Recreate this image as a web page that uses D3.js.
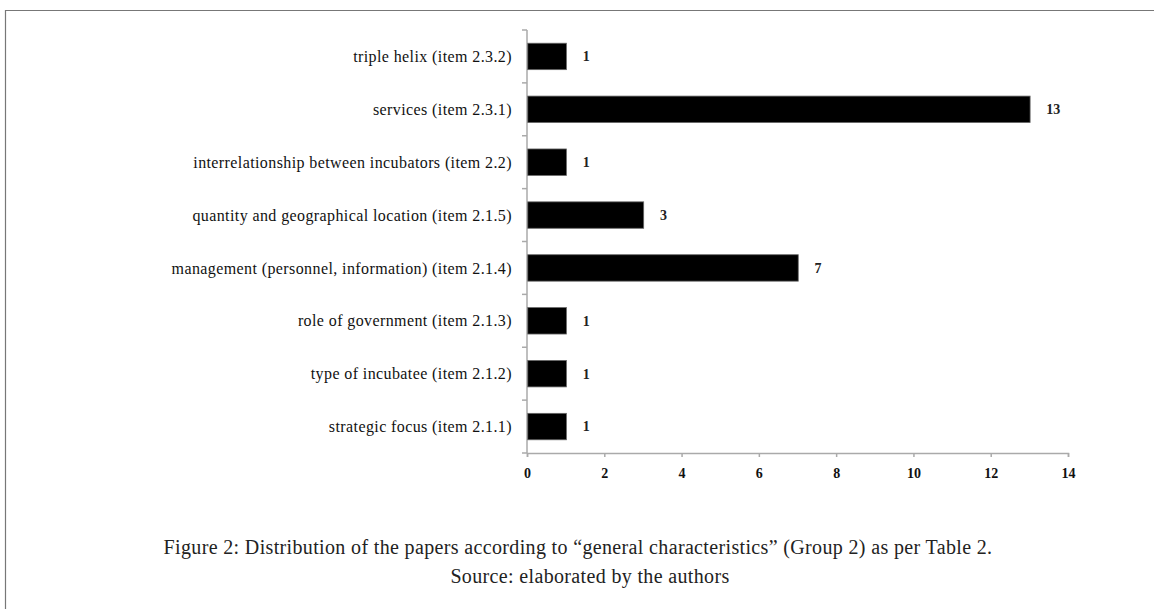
<!DOCTYPE html>
<html>
<head>
<meta charset="utf-8">
<script src="https://d3js.org/d3.v7.min.js"></script>
<style>
  body { margin: 0; background: #fff; }
  text { font-family: "Liberation Serif", "DejaVu Serif", serif; }
</style>
</head>
<body>
<div id="chart"></div>
<script>
// data, top to bottom as in the figure
var categories = [
  "triple helix (item 2.3.2)",
  "services (item 2.3.1)",
  "interrelationship between incubators (item 2.2)",
  "quantity and geographical location (item 2.1.5)",
  "management (personnel, information) (item 2.1.4)",
  "role of government (item 2.1.3)",
  "type of incubatee (item 2.1.2)",
  "strategic focus (item 2.1.1)"
];
var values = [1, 13, 1, 3, 7, 1, 1, 1];
var xTicks = [0, 2, 4, 6, 8, 10, 12, 14];

var W = 1154, H = 609;
var margin = {top: 30, right: 86, bottom: 156, left: 527};
var width = W - margin.left - margin.right,
    height = H - margin.top - margin.bottom;

var svg = d3.select("#chart").append("svg")
    .attr("width", W)
    .attr("height", H);

// frame lines (top and left only)
svg.append("path")
    .attr("d", "M5.5," + H + "V10.5H" + W)
    .attr("fill", "none")
    .attr("stroke", "#777")
    .attr("stroke-width", 1.2);

var g = svg.append("g")
    .attr("transform", "translate(" + margin.left + "," + margin.top + ")");

var x = d3.scaleLinear().domain([0, 14]).range([0, width]);
var y = d3.scaleBand().domain(categories).range([0, height]).paddingInner(0.5).paddingOuter(0.25);

// x axis
var xAxis = g.append("g")
    .attr("transform", "translate(0," + height + ")")
    .call(d3.axisBottom(x).tickValues(xTicks).tickSize(4).tickPadding(11));
xAxis.select(".domain").attr("stroke", "#aaa").attr("stroke-width", 1.5);
xAxis.selectAll(".tick line").attr("stroke", "#aaa").attr("stroke-width", 1.5);
xAxis.selectAll(".tick text")
    .attr("fill", "#111")
    .style("font-size", "14px")
    .style("font-weight", "bold");

// y axis: line plus ticks at the category boundaries
g.append("line")
    .attr("x1", 0).attr("x2", 0)
    .attr("y1", 0).attr("y2", height)
    .attr("stroke", "#aaa").attr("stroke-width", 1.5);

var step = height / categories.length;
g.selectAll(".ytick")
    .data(d3.range(categories.length + 1))
    .enter().append("line")
    .attr("x1", -5).attr("x2", 0)
    .attr("y1", function(i) { return i * step; })
    .attr("y2", function(i) { return i * step; })
    .attr("stroke", "#aaa").attr("stroke-width", 1.5);

// category labels
g.selectAll(".cat")
    .data(categories)
    .enter().append("text")
    .attr("x", -15)
    .attr("y", function(d) { return y(d) + y.bandwidth() / 2; })
    .attr("dy", "0.35em")
    .attr("text-anchor", "end")
    .attr("fill", "#111")
    .style("font-size", "16px")
    .style("letter-spacing", "0.4px")
    .text(function(d) { return d; });

// bars
g.selectAll("rect")
    .data(values)
    .enter().append("rect")
    .attr("x", 0.75)
    .attr("y", function(d, i) { return y(categories[i]); })
    .attr("width", function(d) { return x(d); })
    .attr("height", y.bandwidth())
    .attr("fill", "#000")
    .attr("stroke", "#666")
    .attr("stroke-width", 0.8);

// value labels
g.selectAll(".val")
    .data(values)
    .enter().append("text")
    .attr("x", function(d) { return x(d) + 17; })
    .attr("y", function(d, i) { return y(categories[i]) + y.bandwidth() / 2; })
    .attr("dy", "0.35em")
    .attr("fill", "#222")
    .style("font-size", "14px")
    .style("font-weight", "bold")
    .text(function(d) { return d; });

// caption
svg.append("text")
    .attr("x", 578).attr("y", 554)
    .attr("text-anchor", "middle")
    .attr("fill", "#222")
    .style("font-size", "20px")
    .style("letter-spacing", "0.35px")
    .text("Figure 2: Distribution of the papers according to \u201cgeneral characteristics\u201d (Group 2) as per Table 2.");
svg.append("text")
    .attr("x", 590).attr("y", 583)
    .attr("text-anchor", "middle")
    .attr("fill", "#222")
    .style("font-size", "20px")
    .style("letter-spacing", "0.35px")
    .text("Source: elaborated by the authors");
</script>
</body>
</html>
